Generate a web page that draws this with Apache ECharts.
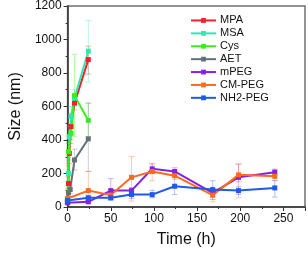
<!DOCTYPE html>
<html><head><meta charset="utf-8">
<script src="https://cdn.jsdelivr.net/npm/echarts@6/dist/echarts.min.js"></script>
<style>html,body{margin:0;padding:0;background:#fff}#c{width:308px;height:253px}</style>
</head><body><div id="c"></div>
<script>
// Series data: [time (h), size (nm)]
const seriesNames = ['MPA','MSA','Cys','AET','mPEG','CM-PEG','NH2-PEG'];
const colors = ['#f5202a','#33e8b0','#3aee1e','#63727a','#8522e0','#ff6a1e','#1f5ae8'];
const MPA = [[0,30],[1,140],[2,320],[4,480],[8,620],[24,880]];
const MSA = [[0,40],[1,200],[2,420],[4,540],[8,650],[24,930]];
const Cys = [[0,50],[1,330],[4,440],[8,665],[24,517]];
const AET = [[0,30],[1,84],[3,104],[8,281],[24,407]];
const mPEG = [[0,25],[24,31],[50,98],[74,98],[98,228],[124,212],[168,84],[198,177],[240,208]];
const CMPEG = [[0,51],[24,98],[50,71],[74,177],[98,212],[124,187],[168,71],[198,192],[240,183]];
const NH2PEG = [[0,39],[24,55],[50,55],[74,74],[98,74],[124,124],[168,104],[198,98],[240,114]];
// Error bars: [low, high] per point
const MPAerr = [[20,40],[100,180],[260,380],[400,560],[580,645],[793,960]];
const MSAerr = [[30,50],[150,250],[360,480],[480,600],[600,700],[745,1113]];
const Cyserr = [[40,60],[280,380],[380,500],[420,911],[420,620]];
const AETerr = [[20,40],[60,110],[80,130],[220,345],[213,621]];
const mPEGerr = [[18,32],[22,40],[45,169],[80,116],[200,256],[190,234],[60,108],[150,256],[190,226]];
const CMPEGerr = [[40,62],[60,212],[55,87],[35,301],[157,261],[165,209],[31,111],[55,256],[160,206]];
const NH2PEGerr = [[30,48],[40,70],[40,70],[50,100],[55,100],[74,177],[45,157],[75,121],[59,157]];

const dataSets = [MPA,MSA,Cys,AET,mPEG,CMPEG,NH2PEG];
const errSets = [MPAerr,MSAerr,Cyserr,AETerr,mPEGerr,CMPEGerr,NH2PEGerr];
const xTicksMax = 275;

const chart = echarts.init(document.getElementById('c'), null, {renderer:'canvas'});
const font = 'Liberation Sans, Arial, sans-serif';
const series = [];
dataSets.forEach((d,i)=>{
  series.push({
    name: seriesNames[i], type:'line', data:d, z:3,
    symbol:'rect', symbolSize:5,
    color: colors[i],
    lineStyle:{width:2, color:colors[i]},
    itemStyle:{color:colors[i]},
    animation:false
  });
});
errSets.forEach((err,i)=>{
  const d = dataSets[i].map((p,j)=>[p[0], err[j][0], err[j][1]]);
  series.push({
    type:'custom', silent:true, z:1,
    data:d,
    renderItem:(params,api)=>{
      const x = api.value(0);
      const lo = api.coord([x, api.value(1)]);
      const hi = api.coord([x, api.value(2)]);
      const w = 3;
      const st = {stroke: colors[i], lineWidth:1, opacity:0.35};
      return {type:'group', children:[
        {type:'line', shape:{x1:lo[0],y1:lo[1],x2:hi[0],y2:hi[1]}, style:st},
        {type:'line', shape:{x1:lo[0]-w,y1:lo[1],x2:lo[0]+w,y2:lo[1]}, style:st},
        {type:'line', shape:{x1:hi[0]-w,y1:hi[1],x2:hi[0]+w,y2:hi[1]}, style:st}
      ]};
    }
  });
});

chart.setOption({
  animation:false,
  grid:{left:53, right:3, top:6, bottom:44, show:true, borderColor:'#707070', borderWidth:1.5, containLabel:false},
  legend:{
    data:seriesNames, orient:'vertical', left:190, top:14, padding:0,
    itemWidth:25, itemHeight:6, itemGap:0,
    textStyle:{fontFamily:font, fontSize:11, lineHeight:12.9, color:'#111', padding:[0,0,0,-1]}
  },
  xAxis:{
    type:'value', min:0, max:xTicksMax, interval:50,
    name:'Time (h)', nameLocation:'middle', nameGap:25,
    nameTextStyle:{fontFamily:font, fontSize:16, color:'#111'},
    axisLine:{show:true, lineStyle:{color:'#333', width:1.5}},
    axisTick:{show:true, inside:false, length:4, lineStyle:{color:'#333'}},
    minorTick:{show:true, splitNumber:2, length:2, lineStyle:{color:'#333'}},
    axisLabel:{fontFamily:font, fontSize:12, color:'#111', margin:6, showMaxLabel:false,
      formatter:v=> (v % 50 === 0 ? String(v) : '')},
    splitLine:{show:false}
  },
  yAxis:{
    type:'value', min:0, max:1200, interval:200,
    name:'Size (nm)', nameLocation:'middle', nameGap:35, nameRotate:90,
    nameTextStyle:{fontFamily:font, fontSize:16, color:'#111'},
    axisLine:{show:true, lineStyle:{color:'#333', width:1.5}},
    axisTick:{show:true, inside:false, length:4, lineStyle:{color:'#333'}},
    minorTick:{show:true, splitNumber:2, length:2, lineStyle:{color:'#333'}},
    axisLabel:{fontFamily:font, fontSize:12, color:'#111', margin:6, formatter:v=>String(v)},
    splitLine:{show:false}
  },
  series:series
});
</script></body></html>
